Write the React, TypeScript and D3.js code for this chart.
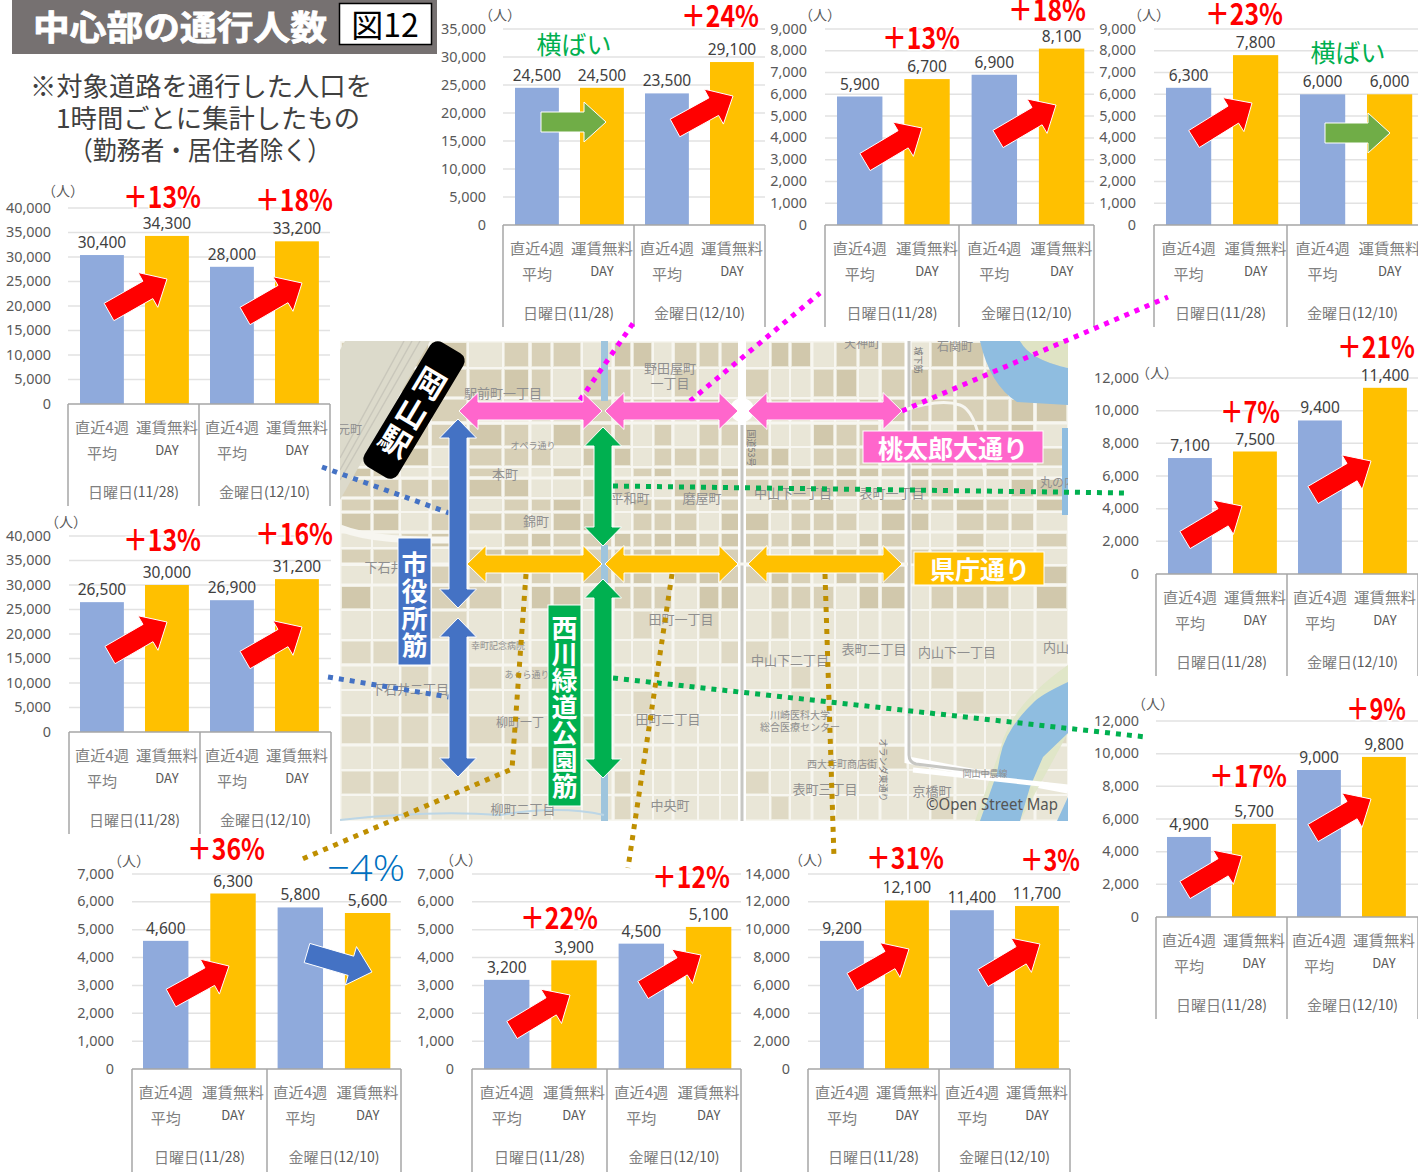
import React from "react";
import * as d3 from "d3";

const JP = '"Noto Sans CJK JP", "Noto Sans", sans-serif';
const LAT = '"Noto Sans", "Noto Sans CJK JP", sans-serif';

// ---- data ----
const valuesA = [30400, 34300, 28000, 33200];
const valuesB = [26500, 30000, 26900, 31200];
const valuesC = [24500, 24500, 23500, 29100];
const valuesD = [5900, 6700, 6900, 8100];
const valuesE = [6300, 7800, 6000, 6000];
const valuesF = [7100, 7500, 9400, 11400];
const valuesG = [4900, 5700, 9000, 9800];
const valuesH = [4600, 6300, 5800, 5600];
const valuesI = [3200, 3900, 4500, 5100];
const valuesJ = [9200, 12100, 11400, 11700];
const barLabelsTop = ["直近4週", "運賃無料", "直近4週", "運賃無料"];
const barLabelsBottom = ["平均", "DAY", "平均", "DAY"];
const dayNames = ["日曜日", "金曜日"];
const dayDates = ["(11/28)", "(12/10)"];

const RED = "#ff0000";
const GREEN = "#70ad47";
const BLUE = "#4472c4";

const panels = [
  { values: valuesA, left: 68, right: 330, div: 199, band: 65, top: 208, bottom: 404, boxBottom: 506, max: 40000, step: 5000, tickRight: 51, unit: [63, 190], barShift: 1.44,
    arrows: [[109, 312, 167, 279, RED], [245, 316, 302, 283, RED]], pct: [["＋13%", 162, 197], ["＋18%", 294, 200]] },
  { values: valuesB, left: 69, right: 331, div: 200, band: 65, top: 536, bottom: 732, boxBottom: 834, max: 40000, step: 5000, tickRight: 51, unit: [66, 521], barShift: 0.44,
    arrows: [[110, 655, 167, 622, RED], [245, 660, 302, 627, RED]], pct: [["＋13%", 162, 540], ["＋16%", 294, 534]] },
  { values: valuesC, left: 503, right: 765, div: 634, band: 65, top: 29, bottom: 225, boxBottom: 327, max: 35000, step: 5000, tickRight: 486, unit: [500, 14], barShift: 1.44,
    arrows: [[541, 122, 606, 122, GREEN], [675, 128, 733, 96, RED]], pct: [["＋24%", 720, 16]] },
  { values: valuesD, left: 825, right: 1094, div: 959, band: 67.3, top: 29, bottom: 225, boxBottom: 327, max: 9000, step: 1000, tickRight: 807, unit: [820, 14], barShift: 1.06,
    arrows: [[865, 162, 922, 128, RED], [998, 139, 1056, 105, RED]], pct: [["＋13%", 921, 38], ["＋18%", 1047, 10]] },
  { values: valuesE, left: 1154, right: 1424, div: 1287, band: 67, top: 29, bottom: 225, boxBottom: 327, max: 9000, step: 1000, tickRight: 1136, unit: [1149, 14], barShift: 1.1,
    arrows: [[1194, 139, 1252, 103, RED], [1325, 133, 1390, 133, GREEN]], pct: [["＋23%", 1244, 14]] },
  { values: valuesF, left: 1156, right: 1418, div: 1287, band: 65, top: 378, bottom: 574, boxBottom: 676, max: 12000, step: 2000, tickRight: 1139, unit: [1157, 372], barShift: 1.44,
    arrows: [[1185, 540, 1242, 506, RED], [1313, 495, 1371, 461, RED]], pct: [["＋7%", 1250, 412], ["＋21%", 1376, 347]] },
  { values: valuesG, left: 1156, right: 1418, div: 1287, band: 65, top: 721, bottom: 917, boxBottom: 1019, max: 12000, step: 2000, tickRight: 1139, unit: [1153, 703], barShift: 0.44,
    arrows: [[1185, 890, 1242, 856, RED], [1313, 833, 1371, 799, RED]], pct: [["＋17%", 1248, 776], ["＋9%", 1376, 709]] },
  { values: valuesH, left: 132, right: 401, div: 267, band: 67.3, top: 874, bottom: 1069, boxBottom: 1172, max: 7000, step: 1000, tickRight: 114, unit: [129, 860], barShift: 0.06,
    arrows: [[171, 998, 229, 966, RED], [307, 953, 372, 972, BLUE]], pct: [["＋36%", 226, 849]] },
  { values: valuesI, left: 472, right: 741, div: 607, band: 67.3, top: 874, bottom: 1069, boxBottom: 1172, max: 7000, step: 1000, tickRight: 454, unit: [461, 859], barShift: 1.06,
    arrows: [[512, 1030, 570, 995, RED], [643, 990, 701, 955, RED]], pct: [["＋22%", 559, 918], ["＋12%", 691, 877]] },
  { values: valuesJ, left: 808, right: 1070, div: 939, band: 65, top: 874, bottom: 1069, boxBottom: 1172, max: 14000, step: 2000, tickRight: 790, unit: [810, 859], barShift: 1.44,
    arrows: [[852, 982, 909, 949, RED], [983, 978, 1040, 944, RED]], pct: [["＋31%", 905, 858], ["＋3%", 1050, 860]] },
];

const connectors = [
  { color: "#ff00ff", pts: [[580, 400], [634, 322]] },
  { color: "#ff00ff", pts: [[690, 401], [820, 293]] },
  { color: "#ff00ff", pts: [[902, 411], [1168, 297]] },
  { color: "#00b050", pts: [[613, 486], [1128, 493]] },
  { color: "#00b050", pts: [[613, 678], [1146, 737]] },
  { color: "#4472c4", pts: [[322, 467], [449, 513]] },
  { color: "#4472c4", pts: [[328, 677], [449, 697]] },
  { color: "#bf8f00", pts: [[526, 574], [512, 769], [300, 860]] },
  { color: "#bf8f00", pts: [[672, 574], [628, 868]] },
  { color: "#bf8f00", pts: [[825, 574], [834, 858]] },
];

const roadArrows = [
  ["#ff66cc", 459, 411, 602, 411], ["#ff66cc", 605, 411, 738, 411], ["#ff66cc", 748, 411, 902, 411],
  ["#ffc000", 467, 564, 602, 564], ["#ffc000", 605, 564, 738, 564], ["#ffc000", 748, 564, 902, 564],
  ["#4472c4", 458, 419, 458, 608], ["#4472c4", 458, 618, 458, 777],
  ["#00b050", 603, 427, 603, 546], ["#00b050", 603, 579, 603, 778],
];

const mapLabels = [
  ["駅前町一丁目", 503, 392, 13], ["野田屋町", 670, 367, 13], ["一丁目", 670, 382, 13], ["本町", 505, 473, 13], ["錦町", 536, 520, 13],
  ["平和町", 630, 497, 13], ["磨屋町", 702, 497, 13], ["中山下一丁目", 793, 492, 13], ["表町一丁目", 892, 492, 13], ["下石井", 384, 566, 13],
  ["田町一丁目", 681, 618, 13], ["田町二丁目", 668, 718, 13], ["柳町一丁", 520, 721, 12], ["柳町二丁目", 523, 808, 13], ["中央町", 670, 804, 13],
  ["中山下二丁目", 790, 659, 13], ["表町二丁目", 874, 648, 13], ["内山下一丁目", 957, 651, 13], ["表町三丁目", 825, 788, 13], ["京橋町", 932, 790, 13],
  ["下石井二丁目", 410, 688, 13], ["丸の内", 1058, 481, 12], ["内山", 1056, 646, 13], ["石関町", 955, 345, 12], ["天神町", 862, 342, 12],
  ["元町", 350, 428, 12], ["オペラ通り", 533, 445, 9], ["あくら通り", 527, 674, 9], ["幸町記念病院", 498, 645, 9], ["川崎医科大学", 800, 714, 10], ["総合医療センター", 800, 726, 10],
  ["西大寺町商店街", 842, 763, 10], ["岡山中農線", 985, 773, 9],
];

const roadXs = [340, 372, 400, 430, 468, 503, 530, 552, 582, 613, 632, 653, 673, 698, 720, 742, 770, 790, 812, 835, 858, 880, 908, 930, 955, 985, 1010, 1035, 1068];
const roadYs = [341, 368, 398, 423, 447, 467, 478, 498, 512, 532, 548, 565, 585, 610, 640, 665, 690, 715, 745, 770, 795, 821];

function blockArrow(x1: number, y1: number, x2: number, y2: number, sw = 10, hw = 20, hl = 22) {
  const dx = x2 - x1, dy = y2 - y1, L = Math.hypot(dx, dy);
  const ux = dx / L, uy = dy / L, nx = -uy, ny = ux;
  const bx = x2 - ux * hl, by = y2 - uy * hl;
  const p = [
    [x1 + nx * sw, y1 + ny * sw], [bx + nx * sw, by + ny * sw], [bx + nx * hw, by + ny * hw], [x2, y2],
    [bx - nx * hw, by - ny * hw], [bx - nx * sw, by - ny * sw], [x1 - nx * sw, y1 - ny * sw],
  ];
  return p.map((q) => q.map((v) => v.toFixed(1)).join(",")).join(" ");
}
function doubleArrow(x1: number, y1: number, x2: number, y2: number, sw = 9, hw = 18.5, hl = 19) {
  const dx = x2 - x1, dy = y2 - y1, L = Math.hypot(dx, dy);
  const ux = dx / L, uy = dy / L, nx = -uy, ny = ux;
  const pt = (d: number, o: number) => [x1 + ux * d + nx * o, y1 + uy * d + ny * o];
  const p = [pt(0, 0), pt(hl, hw), pt(hl, sw), pt(L - hl, sw), pt(L - hl, hw), pt(L, 0), pt(L - hl, -hw), pt(L - hl, -sw), pt(hl, -sw), pt(hl, -hw)];
  return p.map((q) => q.map((v) => v.toFixed(1)).join(",")).join(" ");
}

function Panel({ p }: { p: any }) {
  const y = d3.scaleLinear().domain([0, p.max]).range([p.bottom, p.top]);
  const x = d3.scaleBand<number>().domain([0, 1, 2, 3]).range([p.left, p.left + p.band * 4]).paddingInner(0.325).paddingOuter(0.1625);
  const ticks = d3.range(0, p.max + 1, p.step);
  const fmt = d3.format(",");
  const groups = [[p.left, p.div], [p.div, p.right]];
  return (
    <g>
      {ticks.filter((t) => t > 0).map((t) => (
        <line key={t} x1={p.left} x2={Math.min(p.right, 1418)} y1={y(t)} y2={y(t)} stroke="#e2e2e2" strokeWidth={1.5} />
      ))}
      {ticks.map((t) => (
        <text key={t} x={p.tickRight} y={y(t) - 1} textAnchor="end" dominantBaseline="central" fontFamily={LAT} fontSize={14.4} fill="#595959">{fmt(t)}</text>
      ))}
      {p.values.map((v: number, i: number) => (
        <rect key={i} x={x(i)! + p.barShift} y={y(v)} width={x.bandwidth()} height={p.bottom - y(v)} fill={i % 2 ? "#ffc000" : "#8faadc"} />
      ))}
      {p.values.map((v: number, i: number) => (
        <text key={i} x={x(i)! + p.barShift + x.bandwidth() / 2} y={y(v) - 7} textAnchor="middle" fontFamily={LAT} fontSize={15.5} fill="#404040">{fmt(v)}</text>
      ))}
      <line x1={p.left} x2={Math.min(p.right, 1418)} y1={p.bottom} y2={p.bottom} stroke="#a6a6a6" strokeWidth={1.5} />
      {[p.left, p.div, p.right].map((lx: number, i: number) => (
        <line key={i} x1={lx} x2={lx} y1={p.bottom} y2={p.boxBottom} stroke="#a6a6a6" strokeWidth={1.5} />
      ))}
      {barLabelsTop.map((s, i) => (
        <text key={i} x={x(i)! + p.barShift + x.bandwidth() / 2} y={p.bottom + 22} textAnchor="middle" dominantBaseline="central" fontFamily={JP} fontSize={15} fill="#808080" textLength={i % 2 ? 62 : 54} lengthAdjust="spacingAndGlyphs">{s}</text>
      ))}
      {barLabelsBottom.map((s, i) => (
        <text key={i} x={x(i)! + p.barShift + x.bandwidth() / 2} y={p.bottom + (i % 2 ? 45 : 48)} textAnchor="middle" dominantBaseline="central" fontFamily={JP} fontSize={i % 2 ? 13 : 15} fill={i % 2 ? "#595959" : "#808080"}>{s}</text>
      ))}
      {groups.map(([a, b], i) => (
        <text key={i} x={(a + Math.min(b, 1418)) / 2} y={p.bottom + 87} textAnchor="middle" dominantBaseline="central" fontFamily={JP} fontSize={15} fill="#808080">
          {dayNames[i]}<tspan fill="#595959" fontSize={14}>{dayDates[i]}</tspan>
        </text>
      ))}
      <text x={p.unit[0]} y={p.unit[1]} textAnchor="middle" dominantBaseline="central" fontFamily={JP} fontSize={14} fill="#595959">（人）</text>
      {p.arrows.map((a: any[], i: number) => (
        <polygon key={i} points={blockArrow(a[0], a[1], a[2], a[3])} fill={a[4]} stroke="#fff" strokeWidth={1} />
      ))}
      {p.pct.map((t: any[], i: number) => (
        <text key={i} x={t[1]} y={t[2] + 11} textAnchor="middle" fontFamily={JP} fontWeight={700} fontSize={29} fill="#ff0000"
          textLength={t[0].length === 4 ? 78 : 60} lengthAdjust="spacingAndGlyphs" stroke="#fff" strokeWidth={3} paintOrder="stroke">{t[0]}</text>
      ))}
    </g>
  );
}

function MapBase() {
  const blocks: React.ReactNode[] = [];
  roadXs.slice(0, -1).forEach((x0, i) => {
    roadYs.slice(0, -1).forEach((y0, j) => {
      const x1 = roadXs[i + 1], y1 = roadYs[j + 1];
      const h = (i * 5 + j * 3 + ((i * j) % 4)) % 7;
      const upper = y0 < 590;
      const leftLow = x0 < 500 && !upper;
      const on = upper ? h < 5 : leftLow ? h < 3 : h < 1;
      if (!on) return;
      blocks.push(
        <rect key={`${i}-${j}`} x={x0 + 2} y={y0 + 2} width={x1 - x0 - 4} height={y1 - y0 - 4}
          fill={upper ? (h % 2 ? "#d1c8ac" : "#d8d0b7") : "#dfd9c4"} />
      );
    });
  });
  return (
    <g clipPath="url(#mapClip)">
      <rect x={340} y={341} width={728} height={480} fill="#e9e6d7" />
      <g filter="url(#soft)">
        {blocks}
        {roadXs.map((x, i) => <line key={i} x1={x} x2={x} y1={341} y2={821} stroke="#f7f6f0" strokeWidth={i % 3 === 0 ? 3 : 2} />)}
        {roadYs.map((y, i) => <line key={i} x1={340} x2={1068} y1={y} y2={y} stroke="#f7f6f0" strokeWidth={i % 3 === 0 ? 3 : 2} />)}
        {/* rail yard and station curve */}
        <path d="M340,500 L430,341 L345,341 L340,350 Z" fill="#dcdacb" />
        <path d="M340,480 L420,341 M340,470 L412,341 M340,458 L404,341" stroke="#c9c7bb" strokeWidth={1.5} fill="none" />
        <path d="M340,528 C370,540 410,540 450,540" stroke="#f7f6f0" strokeWidth={7} fill="none" />
        {/* main roads */}
        <path d="M742,341 V821" stroke="#fff" strokeWidth={8} fill="none" />
        <path d="M742,425 V821" stroke="#c7c7c3" strokeWidth={3} fill="none" />
        <circle cx={742} cy={410} r={12} fill="#fff" />
        <path d="M908,341 V760 L1068,790" stroke="#fff" strokeWidth={7} fill="none" />
        <path d="M909,341 V755 Q909,762 916,764 L1005,775" stroke="#c7c7c3" strokeWidth={3} fill="none" />
        <path d="M902,411 Q940,398 960,405 T985,480" stroke="#f7f6f0" strokeWidth={3} fill="none" />
        <path d="M340,564 H908" stroke="#f7f6f0" strokeWidth={3} fill="none" />
        {/* greens and waters */}
        <path d="M1020,341 Q1030,360 1068,368 V341 Z" fill="#dfe3c4" />
        <path d="M980,341 H1020 Q1030,360 1068,368 V405 L1017,402 Q990,385 980,341 Z" fill="#8fbde0" />
        <rect x={1062} y={428} width={6} height={87} fill="#8fbde0" />
        <path d="M1068,665 Q1010,705 1000,750 L975,821 H1020 L1068,733 Z" fill="#dfe6c6" opacity={0.9} />
        <path d="M1068,682 Q1040,695 1033,703 Q1005,730 1000,757 L997,773 L980,821 H1020 L1030,787 L1043,757 L1068,733 Z" fill="#8fbde0" />
        <path d="M1057,821 L1068,797 V821 Z" fill="#8fbde0" />
        <path d="M913,770 L1068,787" stroke="#fff" strokeWidth={5} fill="none" />
        <rect x={601} y={341} width={7} height={60} fill="#9fc5dd" />
        <rect x={601} y={545} width={7} height={276} fill="#9fc5dd" />
        <path d="M340,820 Q430,810 500,815 Q560,805 604,815" stroke="#bcd6e6" strokeWidth={2} fill="none" />
      </g>
      {mapLabels.map(([s, x, y, fs]: any, i) => (
        <text key={i} x={x} y={y} textAnchor="middle" dominantBaseline="central" fontFamily={JP} fontSize={fs} fill="#8f8f8f">{s}</text>
      ))}
      <text x={748} y={448} textAnchor="middle" fontFamily={JP} fontSize={9} fill="#7a7a7a" transform="rotate(90 748 448)">国道53号</text>
      <text x={915} y={360} textAnchor="middle" fontFamily={JP} fontSize={9} fill="#7a7a7a" transform="rotate(90 915 360)">城下筋</text>
      <text x={880} y={770} textAnchor="middle" fontFamily={JP} fontSize={9} fill="#7a7a7a" transform="rotate(90 880 770)">オランダ東通り</text>
      <text x={926} y={810} fontFamily={LAT} fontSize={15.5} fill="#555" textLength={132} lengthAdjust="spacingAndGlyphs">©Open Street Map</text>
    </g>
  );
}

function VerticalLabel({ text, x, y0, dy, fs }: { text: string; x: number; y0: number; dy: number; fs: number }) {
  return (
    <g>
      {Array.from(text).map((c, i) => (
        <text key={i} x={x} y={y0 + i * dy} textAnchor="middle" dominantBaseline="central" fontFamily={JP} fontWeight={700} fontSize={fs} fill="#fff">{c}</text>
      ))}
    </g>
  );
}

export default function App() {
  return (
    <svg width={1418} height={1175} viewBox="0 0 1418 1175" style={{ position: "absolute", left: 0, top: 0, background: "#fff" }}>
      <defs>
        <clipPath id="mapClip"><rect x={340} y={341} width={728} height={480} /></clipPath>
        <filter id="soft"><feGaussianBlur stdDeviation={0.7} /></filter>
      </defs>

      <rect x={12} y={0} width={425} height={54} fill="#767171" />
      <text x={180} y={25} textAnchor="middle" dominantBaseline="central" fontFamily={JP} fontWeight={700} fontSize={34} fill="#fff" stroke="#fff" strokeWidth={0.8} textLength={294} lengthAdjust="spacingAndGlyphs">中心部の通行人数</text>
      <rect x={339.5} y={3.5} width={92} height={41} fill="#fff" stroke="#000" strokeWidth={1.5} />
      <text x={385} y={23} textAnchor="middle" dominantBaseline="central" fontFamily={JP} fontSize={32} fill="#000">図12</text>
      <text x={201} y={84} textAnchor="middle" dominantBaseline="central" fontFamily={JP} fontSize={26} fill="#404040" textLength={342} lengthAdjust="spacingAndGlyphs">※対象道路を通行した人口を</text>
      <text x={208} y={116} textAnchor="middle" dominantBaseline="central" fontFamily={JP} fontSize={26} fill="#404040" textLength={304} lengthAdjust="spacingAndGlyphs">1時間ごとに集計したもの</text>
      <text x={200} y={148} textAnchor="middle" dominantBaseline="central" fontFamily={JP} fontSize={26} fill="#404040" textLength={262} lengthAdjust="spacingAndGlyphs">（勤務者・居住者除く）</text>

      <MapBase />

      {panels.map((p, i) => <Panel key={i} p={p} />)}

      <text x={574} y={43} textAnchor="middle" dominantBaseline="central" fontFamily={JP} fontSize={25} fill="#00b050">横ばい</text>
      <text x={1348} y={51} textAnchor="middle" dominantBaseline="central" fontFamily={JP} fontSize={25} fill="#00b050">横ばい</text>
      <text x={366} y={881} textAnchor="middle" fontFamily='"Open Sans", "Noto Sans", sans-serif' fontWeight={300} fontSize={37} fill="#0070c0" textLength={78} lengthAdjust="spacingAndGlyphs">−4%</text>

      {connectors.map((c, i) => (
        <path key={i} d={d3.line()(c.pts as [number, number][])!} fill="none" stroke={c.color} strokeWidth={5} strokeDasharray="5 6" />
      ))}
      {roadArrows.map((a: any, i) => (
        <polygon key={i} points={doubleArrow(a[1], a[2], a[3], a[4])} fill={a[0]} stroke="#fff" strokeWidth={1} />
      ))}

      <g transform="translate(414 410) rotate(31)">
        <rect x={-19.5} y={-72.5} width={39} height={145} rx={9} fill="#000" />
        <VerticalLabel text="岡山駅" x={0} y0={-33} dy={34} fs={31} />
      </g>
      <rect x={398} y={538} width={33} height={127} fill="#4472c4" stroke="#fff" strokeWidth={1} />
      <VerticalLabel text="市役所筋" x={414.5} y0={562} dy={27} fs={26} />
      <rect x={548} y={605} width={33} height={201} fill="#00b050" stroke="#fff" strokeWidth={1} />
      <VerticalLabel text="西川緑道公園筋" x={564.5} y0={626} dy={26.4} fs={26} />
      <rect x={863} y={431} width={180} height={32} fill="#ff66cc" stroke="#fff" strokeWidth={1} />
      <text x={953} y={447} textAnchor="middle" dominantBaseline="central" fontFamily={JP} fontWeight={700} fontSize={25} fill="#fff">桃太郎大通り</text>
      <rect x={914} y={552} width={130} height={33} fill="#ffc000" stroke="#fff" strokeWidth={1} />
      <text x={980} y={568} textAnchor="middle" dominantBaseline="central" fontFamily={JP} fontWeight={700} fontSize={25} fill="#fff">県庁通り</text>
    </svg>
  );
}
